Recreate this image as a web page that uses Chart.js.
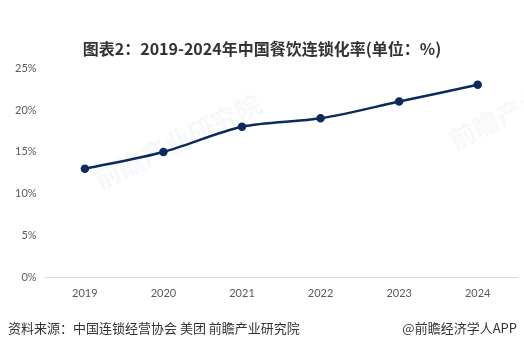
<!DOCTYPE html>
<html>
<head>
<meta charset="utf-8">
<script src="https://cdn.jsdelivr.net/npm/chart.js@4"></script>
<style>
  html, body { margin: 0; padding: 0; background: #fff; }
  #wrap { position: relative; width: 524px; height: 350px; font-family: "Noto Sans CJK SC", "Microsoft YaHei", sans-serif; }
  #title { position: absolute; top: 36px; left: 0; width: 524px; text-align: center; font-size: 16px; font-weight: bold; color: #333; }
  #src { position: absolute; top: 318px; left: 8px; font-size: 13px; color: #333; }
  #app { position: absolute; top: 318px; right: 7px; font-size: 13px; color: #333; }
  canvas { position: absolute; left: 0; top: 0; }
</style>
</head>
<body>
<div id="wrap">
  <canvas id="canvas" width="524" height="350"></canvas>
  <div id="title">图表2：2019-2024年中国餐饮连锁化率(单位：%)</div>
  <div id="src">资料来源：中国连锁经营协会 美团 前瞻产业研究院</div>
  <div id="app">@前瞻经济学人APP</div>
</div>
<script>
const years = ['2019', '2020', '2021', '2022', '2023', '2024'];
const chainRate = [13, 15, 18, 19, 21, 23];
const yTicks = [0, 5, 10, 15, 20, 25];

// faint brand watermark behind the plot
const watermark = {
  id: 'watermark',
  beforeDatasetsDraw(chart) {
    const ctx = chart.ctx;
    ctx.save();
    ctx.fillStyle = 'rgba(210,214,222,0.18)';
    ctx.font = 'bold 26px "Noto Sans CJK SC", sans-serif';
    [[100, 190], [455, 150]].forEach(([x, y]) => {
      ctx.save();
      ctx.translate(x, y);
      ctx.rotate(-0.45);
      ctx.fillText('前瞻产业研究院', 0, 0);
      ctx.restore();
    });
    ctx.restore();
  }
};

new Chart(document.getElementById('canvas'), {
  type: 'line',
  data: {
    labels: years,
    datasets: [{
      data: chainRate,
      borderColor: '#0d2a5c',
      backgroundColor: '#0d2a5c',
      borderWidth: 2.5,
      tension: 0.3,
      pointRadius: 3,
      pointHoverRadius: 3
    }]
  },
  options: {
    responsive: false,
    animation: false,
    layout: { padding: { top: 68, left: 6, right: 7, bottom: 41 } },
    plugins: { legend: { display: false }, tooltip: { enabled: false } },
    scales: {
      x: {
        offset: true,
        grid: { display: false, drawTicks: false },
        border: { display: true, color: '#d9d9d9' },
        ticks: { color: '#595959', font: { size: 11, family: 'Lato, "Noto Sans", sans-serif' }, padding: 9 }
      },
      y: {
        min: 0,
        max: 25,
        afterBuildTicks(axis) { axis.ticks = yTicks.map(v => ({ value: v })); },
        grid: { display: false, drawTicks: false },
        border: { display: false },
        ticks: {
          color: '#595959',
          font: { size: 11, family: 'Lato, "Noto Sans", sans-serif' },
          padding: 9,
          callback: v => v + '%'
        }
      }
    }
  },
  plugins: [watermark]
});
</script>
</body>
</html>
